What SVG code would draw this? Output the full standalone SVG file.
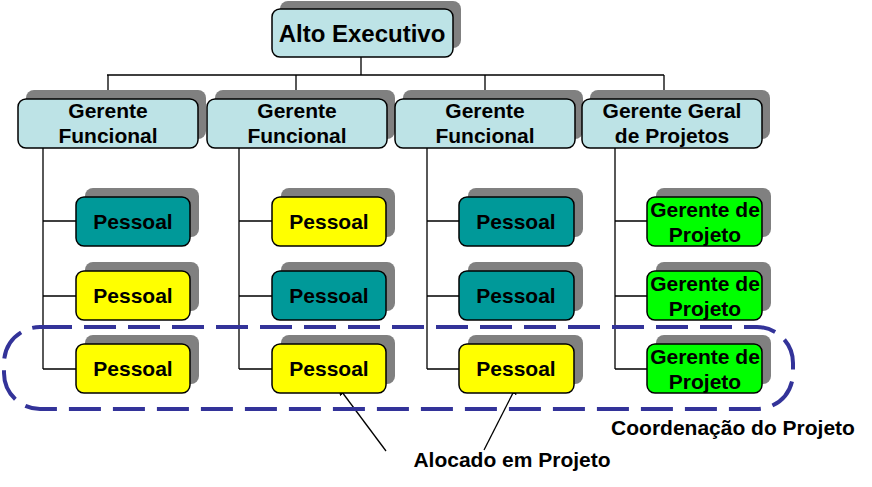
<svg xmlns="http://www.w3.org/2000/svg" width="872" height="487" viewBox="0 0 872 487">
<style>
text{font-family:"Liberation Sans",Arial,sans-serif;font-weight:bold;fill:#000;text-anchor:middle}
.sh{fill:#808080}
.bx{stroke:#000;stroke-width:1.5}
.mgr{fill:#BDE3E6}
.teal{fill:#009999}
.yel{fill:#FFFF00}
.grn{fill:#00FF00}
.ln{stroke:#000;stroke-width:1.3;fill:none}
.t21{font-size:21px}
</style>
<defs>
<marker id="ah" viewBox="0 0 10 10" refX="9" refY="5" markerWidth="8" markerHeight="8" orient="auto" markerUnits="userSpaceOnUse"><path d="M0,0 L10,5 L0,10 z" fill="#000"/></marker>
</defs>
<rect width="872" height="487" fill="#fff"/>
<g id="connectors">
<path class="ln" d="M361,57 V75 M107,75 H664 M108,75 V99 M296,75 V99 M485,75 V99 M664,75 V99"/>
<path class="ln" d="M43,148 V369 M43,221 H76 M43,296 H76 M43,369 H76"/>
<path class="ln" d="M239,148 V369 M239,221 H272 M239,296 H272 M239,369 H272"/>
<path class="ln" d="M427,148 V369 M427,221 H459 M427,296 H459 M427,369 H459"/>
<path class="ln" d="M615,148 V369 M615,221 H647 M615,296 H647 M615,369 H647"/>
<line class="ln" x1="386" y1="451" x2="339" y2="388" marker-end="url(#ah)"/>
<line class="ln" x1="484" y1="450" x2="516" y2="387" marker-end="url(#ah)"/>
</g>
<g id="alto"><rect class="sh" x="280" y="1" width="181" height="47" rx="8"/><rect class="bx mgr" x="272" y="9" width="181" height="48" rx="8"/><text x="362" y="42" font-size="24">Alto Executivo</text></g>
<g id="gf1"><rect class="sh" x="26" y="90" width="180" height="49" rx="8"/><rect class="bx mgr" x="18" y="99" width="180" height="49" rx="8"/><text class="t21" x="108" y="118">Gerente</text><text class="t21" x="108" y="143">Funcional</text></g>
<g id="gf2"><rect class="sh" x="215" y="90" width="180" height="49" rx="8"/><rect class="bx mgr" x="207" y="99" width="180" height="49" rx="8"/><text class="t21" x="297" y="118">Gerente</text><text class="t21" x="297" y="143">Funcional</text></g>
<g id="gf3"><rect class="sh" x="403" y="90" width="180" height="49" rx="8"/><rect class="bx mgr" x="395" y="99" width="180" height="49" rx="8"/><text class="t21" x="485" y="118">Gerente</text><text class="t21" x="485" y="143">Funcional</text></g>
<g id="ggp"><rect class="sh" x="590" y="90" width="180" height="49" rx="8"/><rect class="bx mgr" x="582" y="99" width="180" height="49" rx="8"/><text class="t21" x="672" y="118">Gerente Geral</text><text class="t21" x="672" y="143">de Projetos</text></g>

<g id="p11"><rect class="sh" x="85" y="188" width="114" height="49" rx="8"/><rect class="bx teal" x="76" y="197" width="114" height="49" rx="8"/><text class="t21" x="133" y="229">Pessoal</text></g>
<g id="p12"><rect class="sh" x="85" y="262" width="114" height="49" rx="8"/><rect class="bx yel" x="76" y="271" width="114" height="49" rx="8"/><text class="t21" x="133" y="303">Pessoal</text></g>
<g id="p13"><rect class="sh" x="85" y="335" width="114" height="49" rx="8"/><rect class="bx yel" x="76" y="344" width="114" height="49" rx="8"/><text class="t21" x="133" y="376">Pessoal</text></g>

<g id="p21"><rect class="sh" x="281" y="188" width="114" height="49" rx="8"/><rect class="bx yel" x="272" y="197" width="114" height="49" rx="8"/><text class="t21" x="329" y="229">Pessoal</text></g>
<g id="p22"><rect class="sh" x="281" y="262" width="114" height="49" rx="8"/><rect class="bx teal" x="272" y="271" width="114" height="49" rx="8"/><text class="t21" x="329" y="303">Pessoal</text></g>
<g id="p23"><rect class="sh" x="281" y="335" width="114" height="49" rx="8"/><rect class="bx yel" x="272" y="344" width="114" height="49" rx="8"/><text class="t21" x="329" y="376">Pessoal</text></g>

<g id="p31"><rect class="sh" x="468" y="188" width="115" height="49" rx="8"/><rect class="bx teal" x="459" y="197" width="115" height="49" rx="8"/><text class="t21" x="516" y="229">Pessoal</text></g>
<g id="p32"><rect class="sh" x="468" y="262" width="115" height="49" rx="8"/><rect class="bx teal" x="459" y="271" width="115" height="49" rx="8"/><text class="t21" x="516" y="303">Pessoal</text></g>
<g id="p33"><rect class="sh" x="468" y="335" width="115" height="49" rx="8"/><rect class="bx yel" x="459" y="344" width="115" height="49" rx="8"/><text class="t21" x="516" y="376">Pessoal</text></g>

<g id="gp1"><rect class="sh" x="656" y="188" width="115" height="49" rx="8"/><rect class="bx grn" x="647" y="197" width="115" height="49" rx="8"/><text class="t21" x="705" y="217">Gerente de</text><text class="t21" x="705" y="242">Projeto</text></g>
<g id="gp2"><rect class="sh" x="656" y="262" width="115" height="49" rx="8"/><rect class="bx grn" x="647" y="271" width="115" height="49" rx="8"/><text class="t21" x="705" y="291">Gerente de</text><text class="t21" x="705" y="316">Projeto</text></g>
<g id="gp3"><rect class="sh" x="656" y="335" width="115" height="49" rx="8"/><rect class="bx grn" x="647" y="344" width="115" height="49" rx="8"/><text class="t21" x="705" y="364">Gerente de</text><text class="t21" x="705" y="389">Projeto</text></g>

<g id="coordenacao">
<rect x="4" y="327" width="789" height="82" rx="36" fill="none" stroke="#333399" stroke-width="4" stroke-dasharray="32 12"/>
<text class="t21" x="733" y="435">Coordenação do Projeto</text>
</g>
<g id="alocado"><text class="t21" x="512" y="467">Alocado em Projeto</text></g>
</svg>
